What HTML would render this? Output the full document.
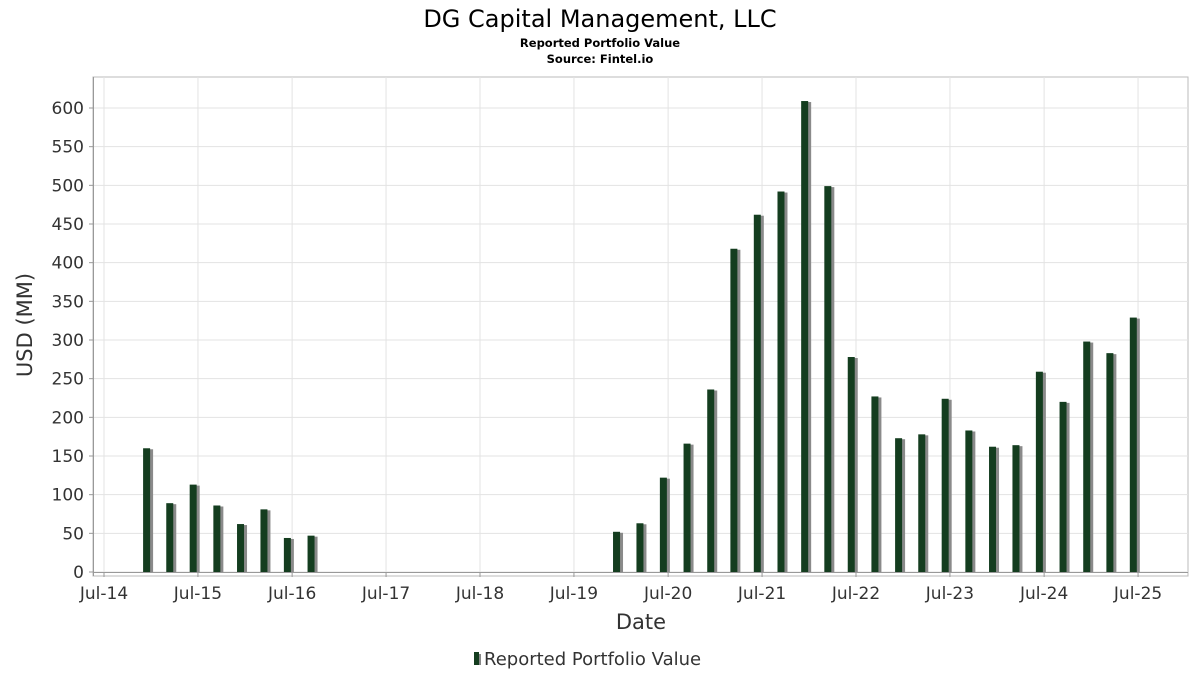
<!DOCTYPE html>
<html><head><meta charset="utf-8"><style>
body{margin:0;background:#fff;font-family:"DejaVu Sans","Liberation Sans",sans-serif}
</style></head><body>
<svg width="1200" height="675" xmlns="http://www.w3.org/2000/svg">
<text x="600" y="27" text-anchor="middle" font-size="24">DG Capital Management, LLC</text>
<text x="600" y="47" text-anchor="middle" font-size="11.5" font-weight="bold">Reported Portfolio Value</text>
<text x="600" y="63" text-anchor="middle" font-size="11.5" font-weight="bold">Source: Fintel.io</text>
<rect x="93" y="77" width="1095" height="499" fill="#fff" stroke="#bbb"/>
<g id="grid"></g><g id="bars"></g><g id="axes"></g>
<text x="32" y="325" text-anchor="middle" font-size="21" fill="#333" transform="rotate(-90 32 325)">USD (MM)</text>
<text x="641" y="629" text-anchor="middle" font-size="21" fill="#333">Date</text>
<g>
<rect x="474" y="652" width="5" height="13" fill="#143d1f"/><rect x="479" y="654" width="2" height="11" fill="#888"/>
<text x="484" y="665" font-size="18" fill="#333">Reported Portfolio Value</text></g>
</svg>
<script>
const dates=["2014-12-31","2015-03-31","2015-06-30","2015-09-30","2015-12-31","2016-03-31","2016-06-30","2016-09-30",
"2019-12-31","2020-03-31","2020-06-30","2020-09-30","2020-12-31","2021-03-31","2021-06-30","2021-09-30","2021-12-31","2022-03-31","2022-06-30","2022-09-30","2022-12-31","2023-03-31","2023-06-30","2023-09-30","2023-12-31","2024-03-31","2024-06-30","2024-09-30","2024-12-31","2025-03-31","2025-06-30"];
const values=[160,89,113,86,62,81,44,47,52,63,122,166,236,418,462,492,609,499,278,227,173,178,224,183,162,164,259,220,298,283,329];
const yTicks=[0,50,100,150,200,250,300,350,400,450,500,550,600];
const xTicks=["2014-07-01","2015-07-01","2016-07-01","2017-07-01","2018-07-01","2019-07-01","2020-07-01","2021-07-01","2022-07-01","2023-07-01","2024-07-01","2025-07-01"];
const xLabels=["Jul-14","Jul-15","Jul-16","Jul-17","Jul-18","Jul-19","Jul-20","Jul-21","Jul-22","Jul-23","Jul-24","Jul-25"];
const NS="http://www.w3.org/2000/svg";
const t0=Date.parse("2014-07-01"),YR=365.25*864e5;
function xs(d){return 104+(Date.parse(d)-t0)/YR*94;}
function ys(v){return 572-v*464/600;}
function mk(tag,attrs,parent){const e=document.createElementNS(NS,tag);for(const k in attrs)e.setAttribute(k,attrs[k]);parent.appendChild(e);return e;}
const grid=document.getElementById('grid'),bars=document.getElementById('bars'),axes=document.getElementById('axes');
yTicks.forEach(v=>{const y=ys(v);
 const l=mk('line',{x1:93,x2:1188,y1:y,y2:y,stroke:'#e3e3e3'},grid);
 
 
 mk('line',{x1:89,x2:93,y1:y,y2:y,stroke:'#999'},axes);
 const t=mk('text',{x:84,y:y+6,'text-anchor':'end','font-size':17,fill:'#333'},axes);t.textContent=v;
 
 
});
xTicks.forEach((d,i)=>{const x=xs(d);
 const l=mk('line',{x1:x,x2:x,y1:77,y2:572,stroke:'#e3e3e3'},grid);
 
 
 mk('line',{x1:x,x2:x,y1:572,y2:577,stroke:'#999'},axes);
 const t=mk('text',{x:x,y:599,'text-anchor':'middle','font-size':17,fill:'#333'},axes);t.textContent=xLabels[i];
 
 
});
mk('line',{x1:94,x2:1188,y1:572.5,y2:572.5,stroke:'#999'},axes);
mk('line',{x1:93.5,x2:93.5,y1:77,y2:576,stroke:'#999'},axes);
dates.forEach((d,i)=>{const x=xs(d),y=ys(values[i]),h=572-y;
 const s=mk('rect',{x:x-5,y:y+1,width:7,height:h-1,fill:'#8a8a8a'},bars);
 
 
 const b=mk('rect',{x:x-8,y:y,width:7,height:h,fill:'#143d1f'},bars);
 
 
});
</script>
</body></html>
